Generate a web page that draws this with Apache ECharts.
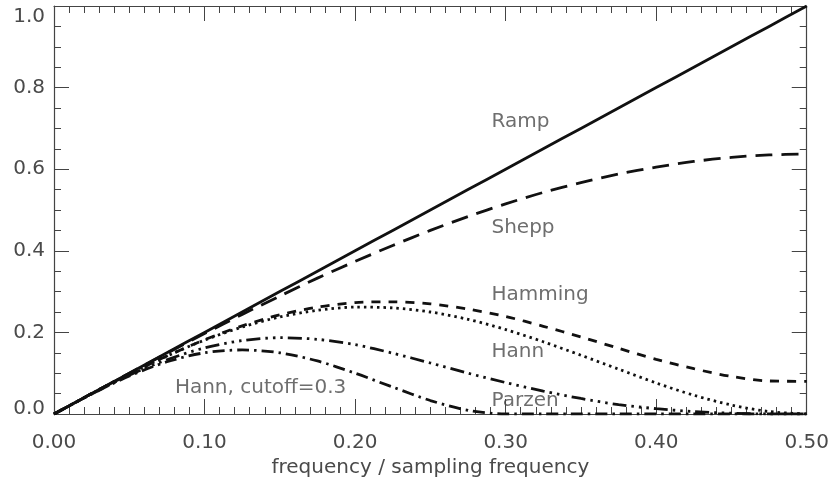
<!DOCTYPE html>
<html>
<head>
<meta charset="utf-8">
<script src="https://cdn.jsdelivr.net/npm/echarts@6/dist/echarts.min.js"></script>
<style>
  html, body { margin: 0; padding: 0; background: #fff; }
  #chart { width: 832px; height: 484px; }
</style>
</head>
<body>
<div id="chart"></div>
<script>
// Frequency samples (fraction of the sampling frequency)
const freq = [0, 0.025, 0.05, 0.075, 0.1, 0.125, 0.15, 0.175, 0.2, 0.225, 0.25,
              0.275, 0.3, 0.325, 0.35, 0.375, 0.4, 0.425, 0.45, 0.475, 0.5];

// Filter responses at each frequency sample
const ramp    = [0, 0.05, 0.10, 0.15, 0.20, 0.25, 0.30, 0.35, 0.40, 0.45, 0.50,
                 0.55, 0.60, 0.65, 0.70, 0.75, 0.80, 0.85, 0.90, 0.95, 1.00];
const shepp   = [0, 0.050, 0.100, 0.149, 0.197, 0.244, 0.289, 0.333, 0.374, 0.413, 0.450,
                 0.484, 0.515, 0.543, 0.567, 0.588, 0.605, 0.619, 0.629, 0.635, 0.637];
const hamming = [0, 0.050, 0.098, 0.142, 0.182, 0.216, 0.243, 0.262, 0.273, 0.275, 0.270,
                 0.257, 0.239, 0.215, 0.189, 0.161, 0.134, 0.111, 0.092, 0.081, 0.080];
const hann    = [0, 0.050, 0.098, 0.142, 0.181, 0.213, 0.238, 0.254, 0.262, 0.260, 0.250,
                 0.232, 0.207, 0.177, 0.144, 0.110, 0.076, 0.046, 0.022, 0.006, 0];
const parzen  = [0, 0.049, 0.095, 0.133, 0.162, 0.180, 0.187, 0.183, 0.170, 0.149, 0.125,
                 0.100, 0.077, 0.056, 0.038, 0.023, 0.013, 0.006, 0.002, 0.000, 0];
const hannCut = [0, 0.049, 0.093, 0.128, 0.150, 0.157, 0.150, 0.130, 0.100, 0.066, 0.033,
                 0.009, 0, 0, 0, 0, 0, 0, 0, 0, 0];

// Curve captions: [text, frequency, response]
const captions = [
  ['Ramp', 0.2906, 0.716],
  ['Shepp', 0.2906, 0.456],
  ['Hamming', 0.2906, 0.292],
  ['Hann', 0.2906, 0.152],
  ['Parzen', 0.2906, 0.032],
  ['Hann, cutoff=0.3', 0.0803, 0.064]
];

const xTicks = { interval: 0.1, min: 0, max: 0.5 };
const yTicks = { interval: 0.2, min: 0, max: 1.0 };

const FONT = 'DejaVu Sans';
const TEXT = '#4a4a4a';
const INK = '#111';
const AXIS = '#444';

function pairs(ys) { return freq.map((f, i) => [f, ys[i]]); }

function curve(name, ys, dash) {
  return {
    name: name,
    type: 'line',
    data: pairs(ys),
    showSymbol: false,
    smooth: 0.3,
    clip: true,
    lineStyle: { color: INK, width: 2.8, type: dash, cap: 'butt' },
    emphasis: { disabled: true }
  };
}

// Frame axis with inward ticks on every side
function frameAxis(minorSplit) {
  return {
    type: 'value',
    axisLine: { show: true, onZero: false, lineStyle: { color: AXIS, width: 1.2 } },
    axisTick: { show: true, inside: true, length: 15, lineStyle: { color: AXIS, width: 1 } },
    minorTick: { show: true, splitNumber: minorSplit, length: 7, lineStyle: { color: AXIS, width: 1 } },
    splitLine: { show: false },
    minorSplitLine: { show: false },
    axisLabel: { show: false }
  };
}

const labelText = { color: TEXT, fontFamily: FONT, fontSize: 20 };

const chart = echarts.init(document.getElementById('chart'), null, { renderer: 'canvas' });

chart.setOption({
  animation: false,
  backgroundColor: '#fff',
  grid: { left: 54, right: 25, top: 6, bottom: 70, containLabel: false },
  xAxis: [
    Object.assign(frameAxis(10), {
      position: 'bottom',
      min: xTicks.min, max: xTicks.max, interval: xTicks.interval,
      axisLabel: Object.assign({ show: true, margin: 19, formatter: v => v.toFixed(2) }, labelText),
      name: 'frequency / sampling frequency',
      nameLocation: 'middle', nameGap: 44,
      nameTextStyle: labelText
    }),
    Object.assign(frameAxis(10), {
      position: 'top',
      min: xTicks.min, max: xTicks.max, interval: xTicks.interval
    })
  ],
  yAxis: [
    Object.assign(frameAxis(4), {
      position: 'left',
      min: yTicks.min, max: yTicks.max, interval: yTicks.interval,
      axisLabel: Object.assign({
        show: true, margin: 9,
        // end labels sit just inside the frame
        formatter: v => {
          const s = v.toFixed(1);
          if (v >= yTicks.max) return '{hi|' + s + '}';
          if (v <= yTicks.min) return '{lo|' + s + '}';
          return s;
        },
        rich: {
          hi: Object.assign({ padding: [22, 0, 0, 0] }, labelText),
          lo: Object.assign({ padding: [0, 0, 10, 0] }, labelText)
        }
      }, labelText)
    }),
    Object.assign(frameAxis(4), {
      position: 'right',
      min: yTicks.min, max: yTicks.max, interval: yTicks.interval
    })
  ],
  series: [
    curve('Ramp', ramp, 'solid'),
    curve('Shepp', shepp, [17, 9]),
    curve('Hamming', hamming, [9, 8]),
    curve('Hann', hann, [2.5, 4]),
    curve('Parzen', parzen, [14, 5, 2.5, 5, 2.5, 5, 2.5, 5]),
    curve('Hann, cutoff=0.3', hannCut, [12, 5, 2.5, 5]),
    {
      type: 'scatter',
      symbolSize: 0,
      silent: true,
      data: captions.map(c => ({ name: c[0], value: [c[1], c[2]] })),
      label: Object.assign({
        show: true,
        position: [0, 0],
        align: 'left',
        verticalAlign: 'middle',
        formatter: p => p.name
      }, labelText),
      z: 5
    }
  ]
});
</script>
</body>
</html>
